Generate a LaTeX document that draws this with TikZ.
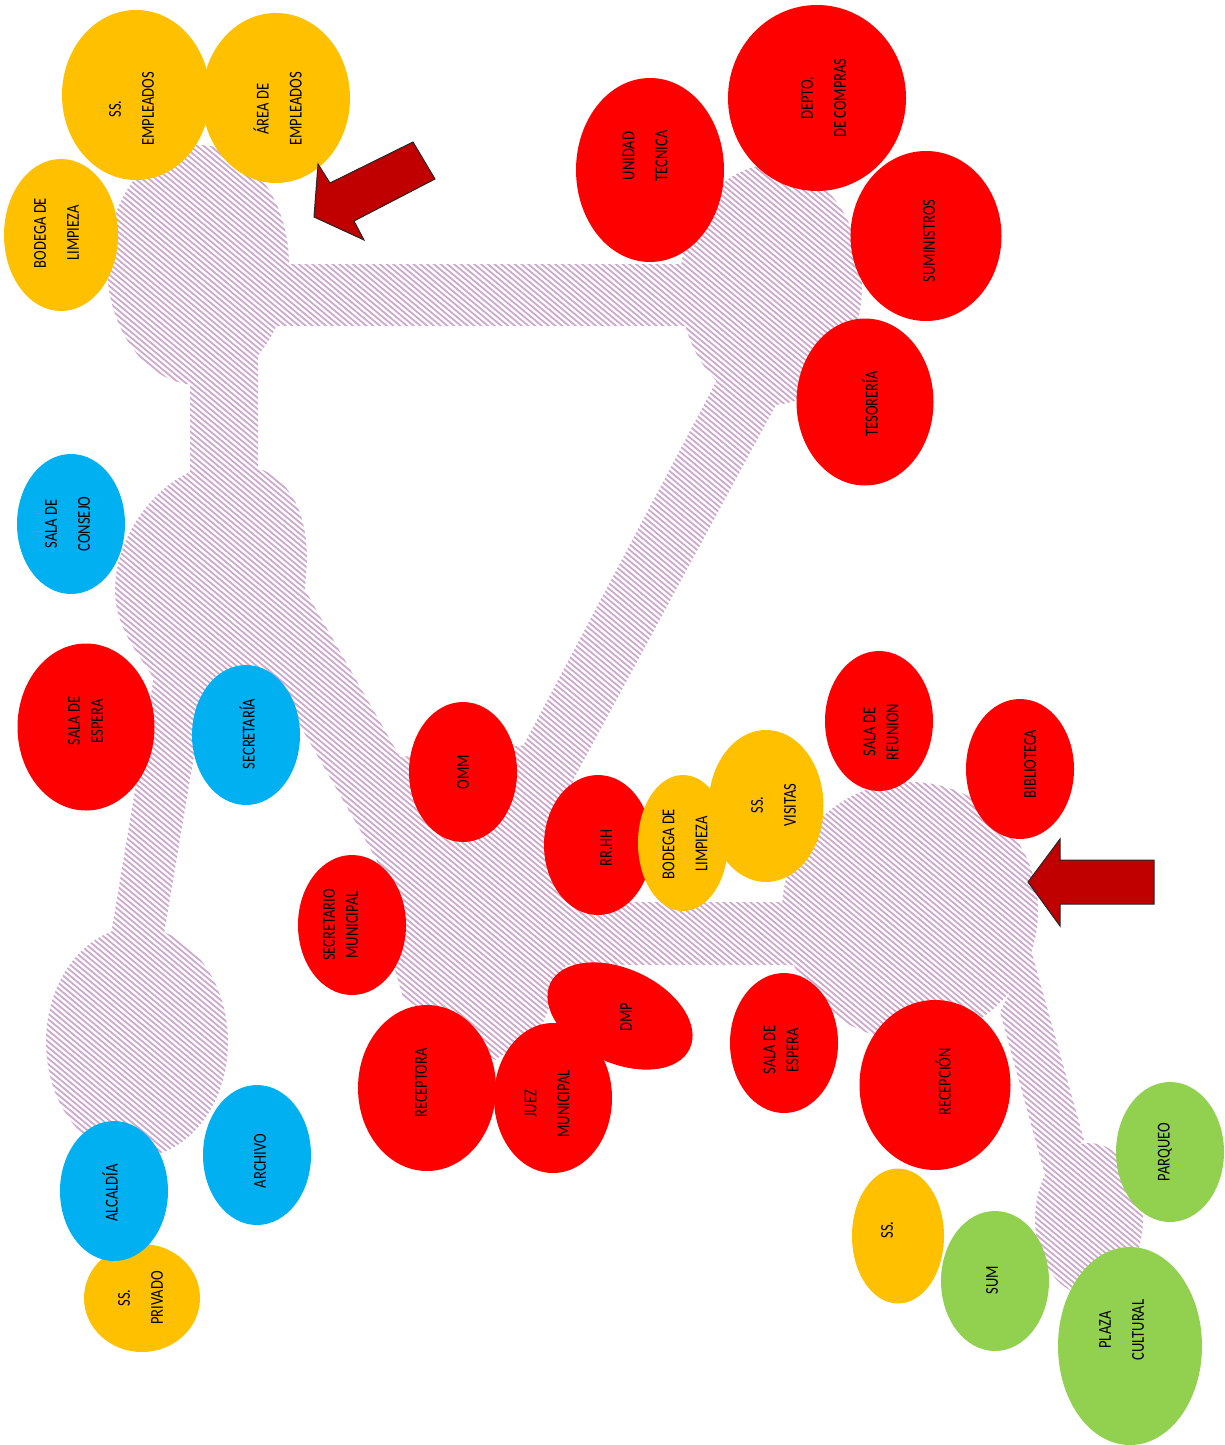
\documentclass[tikz,border=0pt]{standalone}
\usepackage{fontspec}
\setmainfont{Carlito}
\usetikzlibrary{shapes.geometric}
\definecolor{hatchcol}{HTML}{CDA9CD}
\definecolor{roomred}{HTML}{FF0000}
\definecolor{roomyellow}{HTML}{FFC000}
\definecolor{roomblue}{HTML}{00B0F0}
\definecolor{roomgreen}{HTML}{92D050}
\definecolor{arrowred}{HTML}{C00000}
\tikzset{
  hatchline/.style={draw=hatchcol,line width=.9pt},
  roomshape/.style={ellipse,draw=none,inner sep=0pt,outer sep=0pt},
  lblwide/.style={rotate=90,yscale=1.25,align=center,inner sep=0pt,text=black,font=\fontsize{7.25}{13.2}\selectfont},
  lbltight/.style={rotate=90,yscale=1.25,align=center,inner sep=0pt,text=black,font=\fontsize{7.25}{9.2}\selectfont},
  bigarrow/.style={draw=black!85,line width=.5pt,fill=arrowred,line join=miter}
}
% name, centre, rx, ry, colour
\newcommand{\room}[5]{\node[roomshape,fill=#5,minimum width=#3pt,minimum height=#4pt] (#1) at (#2) {};}
\begin{document}
\begin{tikzpicture}[x=.5pt,y=-.5pt]
\useasboundingbox (0,0) rectangle (1225,1445);
% circulation: one clip path, all parts turning the same way, so that their union is hatched
\begin{scope}
\clip (198,265) ellipse [x radius=91,y radius=120]
  (270,264) -- (700,264) -- (700,326) -- (270,326) -- cycle
  (190,340) -- (258,340) -- (258,490) -- (190,490) -- cycle
  (771,285) ellipse [x radius=91,y radius=120]
  (717,380) -- (777,403) -- (565,795) -- (505,780) -- cycle
  (190,472) -- (263,470) .. controls (295,485) and (307,520) .. (307,560) -- (305,590) -- (400,757) -- (360,830) -- (297,720) -- (155,680) .. controls (135,650) and (115,625) .. (115,590) .. controls (115,540) and (150,490) .. (190,472) -- cycle
  (240,670) -- (195,750) -- (163,940) -- (110,940) -- (155,670) -- cycle
  (137,1042) ellipse [x radius=91,y radius=115]
  (400,757) -- (528,745) -- (575,775) -- (555,850) -- (600,910) -- (568,960) -- (540,1030) -- (495,1060) -- (403,997) -- (395,970) -- (390,885) -- (360,830) -- cycle
  (530,902) -- (800,902) -- (800,965) -- (530,965) -- cycle
  (910,911) ellipse [x radius=128,y radius=129]
  (1031,950) -- (1084,1140) -- (1045,1175) -- (1000,1012) -- cycle
  (1089,1219) ellipse [x radius=54,y radius=76];
\foreach \c in {-1020,-1014.4,...,1445}{\draw[hatchline] (0,\c) -- (1225,\c+1017);}
\end{scope}
% rooms
\room{ssemp}{136,95}{74}{85}{roomyellow}
\room{areaemp}{276,98}{74}{85}{roomyellow}
\room{bodegaA}{61,235}{57}{76}{roomyellow}
\room{unidad}{650,170}{74}{92}{roomred}
\room{depto}{817,98}{89}{93}{roomred}
\room{sumin}{926,236}{75.5}{85}{roomred}
\room{tesoreria}{865,402}{68.5}{83.5}{roomred}
\room{consejo}{71,524}{54}{70}{roomblue}
\room{esperaA}{86,727}{68.5}{83.5}{roomred}
\room{secretaria}{246,735}{54}{70}{roomblue}
\room{omm}{463,772}{54}{70}{roomred}
\room{reunion}{879,721}{54}{70}{roomred}
\room{biblioteca}{1020,769}{54}{70}{roomred}
\room{rrhh}{598,845}{54}{70}{roomred}
\room{ssvis}{766,806}{57.5}{76}{roomyellow}
\room{bodegaB}{683,843}{45}{68}{roomyellow}
\room{secmun}{352,925}{54}{70}{roomred}
\room{receptora}{427,1088}{69}{83}{roomred}
\node[roomshape,fill=roomred,minimum width=77pt,minimum height=47pt,rotate=-25] (dmp) at (620,1016) {};
\room{juez}{553,1098}{59}{75}{roomred}
\room{esperaB}{784,1043}{54}{70}{roomred}
\room{recepcion}{935,1085}{75.5}{85}{roomred}
\room{sspriv}{142,1298}{58}{54}{roomyellow}
\room{alcaldia}{114,1191}{54}{70}{roomblue}
\room{archivo}{257,1155}{54}{70}{roomblue}
\room{ssB}{898,1236}{46}{67.5}{roomyellow}
\room{sum}{995,1281}{54}{70}{roomgreen}
\room{parqueo}{1170,1152}{54}{70}{roomgreen}
\room{plaza}{1130,1346}{72}{99}{roomgreen}
% labels
\node[lblwide] (t1) at (131.5,109) {SS.\\EMPLEADOS};
\node[lblwide] (t2) at (277.5,109) {ÁREA DE\\EMPLEADOS};
\node[lblwide] (t3) at (56.5,233) {BODEGA DE\\LIMPIEZA};
\node[lblwide] (t4) at (645,156) {UNIDAD\\TECNICA};
\node[lblwide] (t5) at (823.5,98) {DEPTO.\\DE COMPRAS};
\node[lblwide] (t6) at (929,241) {SUMINISTROS};
\node[lblwide] (t7) at (870,404) {TESORERÍA};
\node[lblwide] (t8) at (67.5,524) {SALA DE\\CONSEJO};
\node[lbltight] (t9) at (85.5,721) {SALA DE\\ESPERA};
\node[lblwide] (t10) at (247,734) {SECRETARÍA};
\node[lblwide] (t11) at (463,772) {OMM};
\node[lbltight] (t12) at (881,732) {SALA DE\\REUNION};
\node[lblwide] (t13) at (1030,764) {BIBLIOTECA};
\node[lblwide] (t14) at (606,848) {RR.HH};
\node[lblwide] (t15) at (685,844) {BODEGA DE\\LIMPIEZA};
\node[lblwide] (t16) at (773.5,805) {SS.\\VISITAS};
\node[lbltight] (t17) at (340.5,925) {SECRETARIO\\MUNICIPAL};
\node[lblwide] (t18) at (421,1083) {RECEPTORA};
\node[lblwide] (t19) at (626,1017) {DMP};
\node[lblwide] (t20) at (547,1104) {JUEZ\\MUNICIPAL};
\node[lbltight] (t21) at (781,1050) {SALA DE\\ESPERA};
\node[lblwide] (t22) at (943,1082) {RECEPCIÓN};
\node[lblwide] (t23) at (110,1193) {ALCALDÍA};
\node[lblwide] (t24) at (260,1161) {ARCHIVO};
\node[lblwide] (t25) at (140.5,1298) {SS.\\PRIVADO};
\node[lblwide] (t26) at (887,1230) {SS.};
\node[lblwide] (t27) at (992,1280) {SUM};
\node[lblwide] (t28) at (1165,1152) {PARQUEO};
\node[lblwide] (t29) at (1121.5,1330) {PLAZA\\CULTURAL};
% arrows
\draw[bigarrow] (413,142) -- (435,179) -- (354,221) -- (364,240) -- (314,217) -- (318,164) -- (330,183) -- cycle;
\draw[bigarrow] (1028,882) -- (1060,839) -- (1060,860) -- (1154,860) -- (1154,904) -- (1060,904) -- (1060,926) -- cycle;
\end{tikzpicture}
\end{document}
